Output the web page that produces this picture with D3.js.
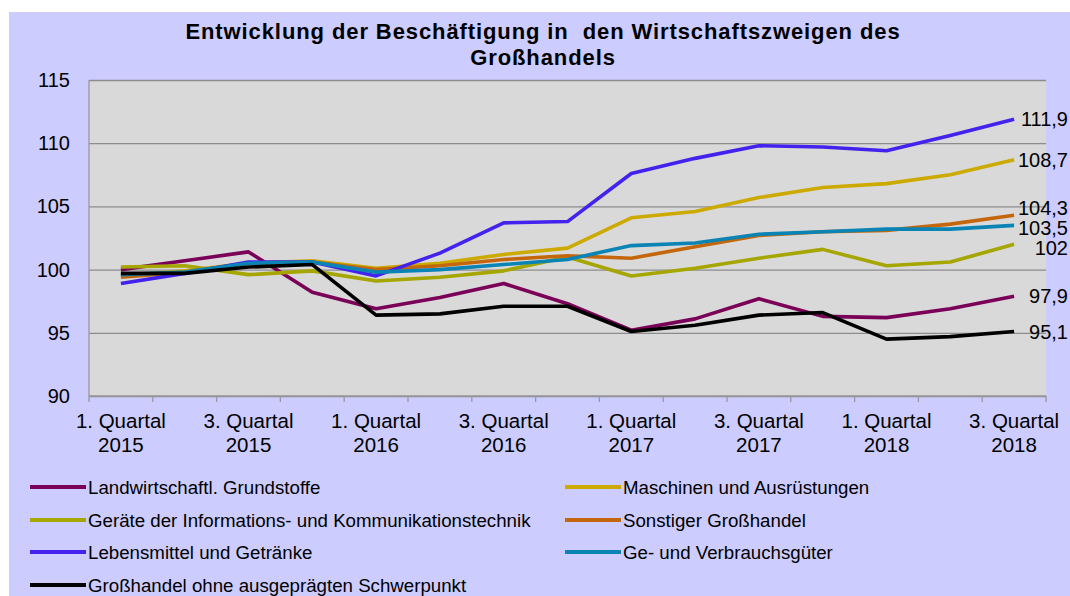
<!DOCTYPE html>
<html><head><meta charset="utf-8">
<script src="https://cdn.jsdelivr.net/npm/d3@7"></script>
<style>
html,body{margin:0;padding:0;background:#fff;}
svg{display:block;font-family:"Liberation Sans",Arial,sans-serif;}
</style></head>
<body>
<svg id="chart" width="1070" height="596"></svg>
<script>
const quarters = ["1. Quartal 2015","2. Quartal 2015","3. Quartal 2015","4. Quartal 2015",
  "1. Quartal 2016","2. Quartal 2016","3. Quartal 2016","4. Quartal 2016",
  "1. Quartal 2017","2. Quartal 2017","3. Quartal 2017","4. Quartal 2017",
  "1. Quartal 2018","2. Quartal 2018","3. Quartal 2018"];
const yTicks = [90, 95, 100, 105, 110, 115];
const seriesNames = ["Landwirtschaftl. Grundstoffe","Maschinen und Ausrüstungen",
  "Geräte der Informations- und Kommunikationstechnik","Sonstiger Großhandel",
  "Lebensmittel und Getränke","Ge- und Verbrauchsgüter","Großhandel ohne ausgeprägten Schwerpunkt"];
const landwirtschaft = [100.0,100.7,101.4,98.2,96.9,97.8,98.9,97.3,95.2,96.1,97.7,96.3,96.2,96.9,97.9];
const maschinen      = [99.5,99.9,100.5,100.7,100.1,100.5,101.2,101.7,104.1,104.6,105.7,106.5,106.8,107.5,108.7];
const geraete        = [100.2,100.3,99.6,99.9,99.1,99.4,99.9,101.0,99.5,100.1,100.9,101.6,100.3,100.6,102.0];
const sonstiger      = [99.4,99.8,100.5,100.6,100.0,100.3,100.8,101.1,100.9,101.8,102.7,103.0,103.1,103.6,104.3];
const lebensmittel   = [98.9,99.7,100.6,100.6,99.5,101.3,103.7,103.8,107.6,108.8,109.8,109.7,109.4,110.6,111.9];
const verbrauch      = [99.6,99.8,100.5,100.6,99.8,100.0,100.4,100.8,101.9,102.1,102.8,103.0,103.2,103.2,103.5];
const ohneSchwer     = [99.7,99.7,100.2,100.4,96.4,96.5,97.1,97.1,95.1,95.6,96.4,96.6,94.5,94.7,95.1];
const endLabels = ["97,9","108,7","102","104,3","111,9","103,5","95,1"];
const colors = ["#7a0058","#ccaa00","#a6a600","#c4660c","#4422ee","#0a84b4","#000000"];

const allSeries = [landwirtschaft, maschinen, geraete, sonstiger, lebensmittel, verbrauch, ohneSchwer];

const svg = d3.select("#chart");
svg.append("rect").attr("x",9).attr("y",12).attr("width",1061).attr("height",584).attr("fill","#ccccff");

const L = 89, R = 1046, T = 80, B = 396;
const x = d3.scaleBand().domain(quarters).range([L, R]).padding(0);
const cx = d => x(d) + x.bandwidth()/2;
const y = d3.scaleLinear().domain([90,115]).range([B, T]);

svg.append("rect").attr("x",L).attr("y",T).attr("width",R-L).attr("height",B-T).attr("fill","#d9d9d9");

const grid = svg.append("g").attr("transform",`translate(${L},0)`)
  .call(d3.axisLeft(y).tickValues(yTicks).tickSize(-(R-L)).tickFormat(""));
grid.select(".domain").remove();
grid.selectAll("line").attr("stroke","#8c8c8c").attr("stroke-width",1.3);

const ya = svg.append("g").attr("transform",`translate(${L},0)`)
  .call(d3.axisLeft(y).tickValues(yTicks).tickSize(0).tickPadding(19));
ya.select(".domain").remove();
ya.selectAll("text").attr("font-size",20).attr("fill","#000").attr("font-family","Liberation Sans, Arial, sans-serif");

svg.append("line").attr("x1",L).attr("x2",L).attr("y1",T).attr("y2",B).attr("stroke","#999").attr("stroke-width",1.3);
svg.append("line").attr("x1",L).attr("x2",R).attr("y1",B).attr("y2",B).attr("stroke","#999").attr("stroke-width",1.3);
const bounds = quarters.map(q => x(q)).concat([R]);
svg.append("g").selectAll("line").data(bounds).join("line")
  .attr("x1",d=>d).attr("x2",d=>d).attr("y1",B).attr("y2",B+6).attr("stroke","#999").attr("stroke-width",1.3);

const xa = svg.append("g").attr("transform",`translate(0,${B})`)
  .call(d3.axisBottom(x).tickValues(quarters.filter((q,i)=>i%2===0)).tickSize(0).tickFormat(""));
xa.select(".domain").remove();
xa.selectAll(".tick").each(function(d){
  const parts = d.split(" ");
  const t = d3.select(this).append("text").attr("fill","#000").attr("font-size",20.5)
    .attr("text-anchor","middle").attr("font-family","Liberation Sans, Arial, sans-serif");
  t.append("tspan").attr("x",0).attr("y",32).text(parts[0]+" "+parts[1]);
  t.append("tspan").attr("x",0).attr("y",56).text(parts[2]);
});

const line = d3.line().x((d,i)=>cx(quarters[i])).y(d=>y(d));
svg.append("g").selectAll("path").data(allSeries).join("path")
  .attr("d", d=>line(d)).attr("fill","none")
  .attr("stroke",(d,i)=>colors[i]).attr("stroke-width",3.6)
  .attr("stroke-linejoin","round");

// end labels with simple collision avoidance
const last = quarters.length-1;
const labs = allSeries.map((s,i)=>({i, y:y(s[last]), t:endLabels[i]}));
const minGap = 20;
for (let iter=0; iter<200; iter++){
  labs.sort((a,b)=>a.y-b.y);
  let moved=false;
  for (let k=1;k<labs.length;k++){
    const gap = labs[k].y - labs[k-1].y;
    if (gap < minGap){
      const d=(minGap-gap)/2; labs[k].y+=d; labs[k-1].y-=d; moved=true;
    }
  }
  if(!moved) break;
}
svg.append("g").selectAll("text").data(labs).join("text")
  .attr("x", 1068).attr("y", d=>d.y)
  .attr("dy","0.35em").attr("text-anchor","end").attr("font-size",20).attr("fill","#000")
  .text(d=>d.t);

const title = svg.append("text").attr("text-anchor","middle").attr("font-weight","bold")
  .attr("font-size",22).attr("letter-spacing",0.9).attr("fill","#000").style("white-space","pre");
title.append("tspan").attr("x",543).attr("y",39).text("Entwicklung der Beschäftigung in  den Wirtschaftszweigen des");
title.append("tspan").attr("x",543).attr("y",65).text("Großhandels");

const legendPos = [[30,487],[565,487],[30,520],[565,520],[30,552],[565,552],[30,585]];
const lg = svg.append("g").selectAll("g").data(seriesNames).join("g")
  .attr("transform",(d,i)=>`translate(${legendPos[i][0]},${legendPos[i][1]})`);
lg.append("line").attr("x1",0).attr("x2",56).attr("y1",0).attr("y2",0)
  .attr("stroke",(d,i)=>colors[i]).attr("stroke-width",4);
lg.append("text").attr("x",58).attr("dy","0.35em").attr("font-size",18.7).attr("fill","#000").text(d=>d);
</script>
</body></html>
